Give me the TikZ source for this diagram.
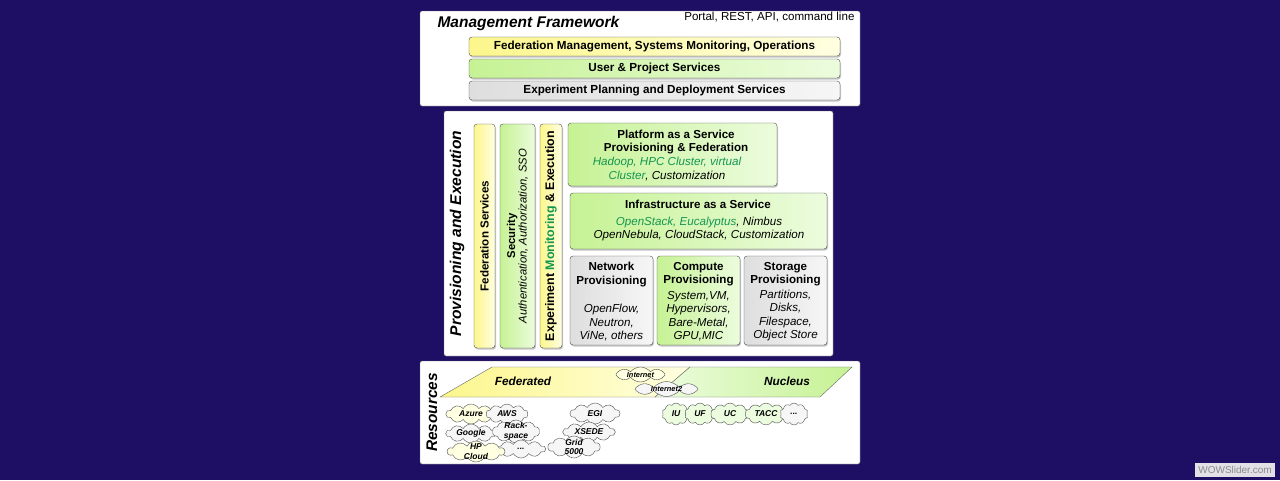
\documentclass[tikz,border=0pt]{standalone}
\usepackage{fontspec}
\setmainfont{Liberation Sans}
\usetikzlibrary{shapes.symbols,shadows}
\definecolor{navy}{RGB}{30,14,100}
\definecolor{yel}{RGB}{252,246,140}
\definecolor{yelpale}{RGB}{255,255,225}
\definecolor{grn}{RGB}{198,242,148}
\definecolor{grnpale}{RGB}{236,252,222}
\definecolor{gry}{RGB}{222,222,222}
\definecolor{grypale}{RGB}{246,246,246}
\definecolor{tgreen}{RGB}{20,150,80}

\begin{document}
\begin{tikzpicture}[x=1pt,y=-1pt,
  panel/.style={draw=black!60,fill=white,rounded corners=2pt,inner sep=0pt},
  box/.style={draw=black!70,rounded corners=3pt,inner sep=0pt,
    drop shadow={opacity=.45,shadow xshift=1pt,shadow yshift=-1.5pt}},
  hbar/.style={box,minimum width=371pt,minimum height=19pt,
    font=\bfseries\fontsize{11.7}{13}\selectfont},
  ybox/.style={left color=yel,right color=yelpale},
  gbox/.style={left color=grn,right color=grnpale},
  sbox/.style={left color=gry,right color=grypale},
  vbar/.style={box,rotate=90,minimum width=224pt,align=center,
    font=\bfseries\fontsize{11.6}{12.5}\selectfont},
  ptitle/.style={font=\bfseries\itshape\fontsize{15.6}{17}\selectfont},
  head/.style={font=\bfseries\fontsize{11.6}{13.5}\selectfont,align=center},
  body/.style={font=\itshape\fontsize{11.6}{13.4}\selectfont,align=center},
  puff/.style={cloud,cloud puffs=10,cloud puff arc=120,cloud ignores aspect,draw=black!70,
    inner sep=-2pt,align=center,font=\bfseries\itshape\fontsize{8.5}{9.5}\selectfont},
  ypuff/.style={puff,fill=yelpale},
  spuff/.style={puff,fill=grypale},
  gpuff/.style={puff,fill=grnpale},
  netpuff/.style={cloud puffs=8,cloud puff arc=100,inner sep=-1.5pt,minimum height=15pt,
    font=\bfseries\itshape\fontsize{7.4}{9}\selectfont}]

% backdrop
\fill[navy] (0,0) rectangle (1280,480);

% management framework
\node[panel,minimum width=440pt,minimum height=95pt] (mgmt) at (640,58.5) {};
\node[ptitle,anchor=west,font=\bfseries\itshape\fontsize{15.5}{17}\selectfont] (mgmttitle) at (434,23) {Management Framework};
\node[anchor=east,font=\fontsize{11.6}{13}\selectfont] (portal) at (858,17.5) {Portal, REST, API, command line};
\node[hbar,ybox] (fedman) at (654.5,46.5) {Federation Management, Systems Monitoring, Operations};
\node[hbar,gbox] (user) at (654.5,68.5) {User \& Project Services};
\node[hbar,sbox] (plan) at (654.5,90.5) {Experiment Planning and Deployment Services};

% provisioning and execution
\node[panel,minimum width=389pt,minimum height=245pt] (prov) at (638.5,233.5) {};
\node[ptitle,rotate=90] (provtitle) at (457,233.5) {Provisioning and Execution};
\node[vbar,ybox,minimum height=21pt] (fedserv) at (484.5,236) {Federation Services};
\node[vbar,gbox,minimum height=35pt,font=\bfseries\fontsize{11.3}{12.5}\selectfont] (secur) at (517.5,236) {Security\\[-1pt]\mdseries\itshape Authentication, Authorization, SSO};
\node[vbar,ybox,minimum height=22pt,font=\bfseries\fontsize{12.4}{13}\selectfont] (expmon) at (551,236) {Experiment \textcolor{tgreen}{Monitoring} \& Execution};

\node[box,gbox,minimum width=209pt,minimum height=63pt] (paas) at (672.5,154.5) {};
\node[head,anchor=north] (paashead) at (676,126.5) {Platform as a Service\\Provisioning \& Federation};
\node[body,anchor=north] (paasbody) at (667,154) {\textcolor{tgreen}{Hadoop, HPC Cluster, virtual}\\\textcolor{tgreen}{Cluster}, Customization};

\node[box,gbox,minimum width=257pt,minimum height=56pt] (iaas) at (698.5,221) {};
\node[head,anchor=north] (iaashead) at (698,196.5) {Infrastructure as a Service};
\node[body,anchor=north] (iaasbody) at (699,213.5) {\textcolor{tgreen}{OpenStack, Eucalyptus}, Nimbus\\OpenNebula, CloudStack, Customization};

\node[box,sbox,minimum width=83pt,minimum height=89pt] (net) at (611.5,300.5) {};
\node[head,anchor=north] (nethead) at ([yshift=-3pt]net.north) {Network\\Provisioning};
\node[body,anchor=south] (netbody) at ([yshift=0.5pt]net.south) {OpenFlow,\\Neutron,\\ViNe, others};

\node[box,gbox,minimum width=83pt,minimum height=89pt] (comp) at (698.5,300.5) {};
\node[head,anchor=north] (comphead) at ([yshift=-3pt]comp.north) {Compute\\Provisioning};
\node[body,anchor=south] (compbody) at ([yshift=0.5pt]comp.south) {System,VM,\\Hypervisors,\\Bare-Metal,\\GPU,MIC};

\node[box,sbox,minimum width=83pt,minimum height=89pt] (stor) at (785.5,300.5) {};
\node[head,anchor=north] (storhead) at ([yshift=-3pt]stor.north) {Storage\\Provisioning};
\node[body,anchor=south] (storbody) at ([yshift=0.5pt]stor.south) {Partitions,\\Disks,\\Filespace,\\Object Store};

% resources
\node[panel,minimum width=440pt,minimum height=103pt] (res) at (640,412.5) {};
\node[ptitle,rotate=90,font=\bfseries\itshape\fontsize{15.4}{17}\selectfont] (restitle) at (432,412.5) {Resources};
\path[draw=black!60,left color=yel,right color=yelpale] (440,397) -- (492,367) -- (690,367) -- (655,397) -- cycle;
\path[draw=black!60,left color=grnpale,right color=grn] (690,367) -- (852,367) -- (820,397) -- (655,397) -- cycle;
\node[font=\bfseries\itshape\fontsize{11.8}{13}\selectfont] (fed) at (523,381) {Federated};
\node[font=\bfseries\itshape\fontsize{11.8}{13}\selectfont] (nuc) at (787,381) {Nucleus};
\node[ypuff,netpuff,minimum width=49pt] (inet) at (640.5,374.5) {Internet};
\node[spuff,netpuff,minimum width=63pt] (inet2) at (666.5,389) {Internet2};

\node[ypuff,minimum width=50pt,minimum height=20pt] (azure) at (471,414) {Azure};
\node[spuff,minimum width=42pt,minimum height=20pt] (aws) at (507,414) {AWS};
\node[spuff,minimum width=50pt,minimum height=19pt] (google) at (471,433.5) {Google};
\node[spuff,minimum width=47pt,minimum height=23pt] (rack) at (516,431.5) {Rack-\\space};
\node[spuff,minimum width=49pt,minimum height=18pt] (more1) at (521,449) {...};
\node[ypuff,minimum width=57pt,minimum height=21pt] (hp) at (476,451.5) {HP\\Cloud};

\node[spuff,minimum width=50pt,minimum height=21pt] (egi) at (595,413.5) {EGI};
\node[spuff,minimum width=52pt,minimum height=20pt] (xsede) at (589,432) {XSEDE};
\node[spuff,minimum width=52pt,minimum height=22pt] (grid) at (574,447) {Grid\\5000};

\node[gpuff,minimum width=28pt,minimum height=22pt] (iu) at (676,414) {IU};
\node[gpuff,minimum width=31pt,minimum height=22pt] (uf) at (700,414) {UF};
\node[gpuff,minimum width=39pt,minimum height=22pt] (uc) at (730,414) {UC};
\node[gpuff,minimum width=42pt,minimum height=22pt] (tacc) at (766,414) {TACC};
\node[spuff,minimum width=28pt,minimum height=22pt] (more2) at (794,414) {...};

% watermark
\node[fill=gry!80!navy!40,text=black!45,inner sep=1pt,minimum width=80pt,minimum height=14pt,font=\fontsize{10}{12}\selectfont] (wow) at (1235,470) {WOWSlider.com};
\end{tikzpicture}
\end{document}
